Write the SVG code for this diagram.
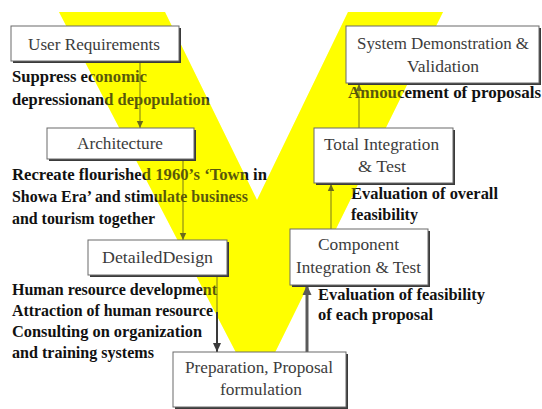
<svg xmlns="http://www.w3.org/2000/svg" xmlns:xlink="http://www.w3.org/1999/xlink" width="542" height="409" viewBox="0 0 542 409">
  <style>
    .note { font-weight: bold; font-size: 16px; fill: #111; }
    .label { font-size: 16px; fill: #3c3c3c; }
    .box { fill: #ffffff; stroke: #6a6a6a; stroke-width: 1; }
    .shadow { fill: #3a3a3a; }
    .thin { stroke: #2a2a2a; stroke-width: 0.9; fill: none; }
    .thick { stroke: #3a3a3a; stroke-width: 2; fill: none; }
    .heavy { stroke: #5a5a5a; stroke-width: 3; fill: none; }
  </style>
  <defs>
    <polygon id="vee" points="59,12 165,12 257,200 348,12 443,12 256,391" fill="#ffff00"/>
    <marker id="headThin" markerUnits="userSpaceOnUse" markerWidth="8" markerHeight="8" refX="7" refY="4" orient="auto">
      <path d="M0,0.8 L7,4 L0,7.2 Z" fill="#2a2a2a"/>
    </marker>
    <marker id="headThick" markerUnits="userSpaceOnUse" markerWidth="10" markerHeight="10" refX="9" refY="5" orient="auto">
      <path d="M0,1 L9,5 L0,9 Z" fill="#3a3a3a"/>
    </marker>
    <marker id="headHeavy" markerUnits="userSpaceOnUse" markerWidth="12" markerHeight="12" refX="10" refY="6" orient="auto">
      <path d="M0,1.5 L10,6 L0,10.5 Z" fill="#5a5a5a"/>
    </marker>
  </defs>

  <rect width="542" height="409" fill="#ffffff"/>

  <!-- the V band -->
  <use xlink:href="#vee"/>

  <!-- connectors lying in the band -->
  <g id="connectors">
    <line class="thin" x1="140" y1="62" x2="140" y2="128" marker-end="url(#headThin)"/>
    <line class="thin" x1="183" y1="160" x2="183" y2="240" marker-end="url(#headThin)"/>
    <line class="thin" x1="217" y1="276" x2="217" y2="312"/>
    <line class="thin" x1="331" y1="229" x2="331" y2="184" marker-end="url(#headThin)"/>
    <line class="thin" x1="359" y1="128" x2="359" y2="84" marker-end="url(#headThin)"/>
  </g>

  <!-- annotations -->
  <g id="notes" font-family="'Liberation Serif', 'Times New Roman', serif">
    <text class="note" x="12" y="82" textLength="135" lengthAdjust="spacingAndGlyphs">Suppress economic</text>
    <text class="note" x="12" y="105" textLength="198" lengthAdjust="spacingAndGlyphs">depressionand depopulation</text>
    <text class="note" x="12" y="180" textLength="255" lengthAdjust="spacingAndGlyphs">Recreate flourished 1960’s  ‘Town in</text>
    <text class="note" x="12" y="202" textLength="236" lengthAdjust="spacingAndGlyphs">Showa Era’ and stimulate business</text>
    <text class="note" x="12" y="224" textLength="143" lengthAdjust="spacingAndGlyphs">and tourism together</text>
    <text class="note" x="12" y="295" textLength="205" lengthAdjust="spacingAndGlyphs">Human resource development</text>
    <text class="note" x="12" y="316" textLength="201" lengthAdjust="spacingAndGlyphs">Attraction of human resource</text>
    <text class="note" x="12" y="337" textLength="190" lengthAdjust="spacingAndGlyphs">Consulting on organization</text>
    <text class="note" x="12" y="358" textLength="142" lengthAdjust="spacingAndGlyphs">and training systems</text>
    <text class="note" x="348" y="98" textLength="193" lengthAdjust="spacingAndGlyphs">Annoucement of proposals</text>
    <text class="note" x="351" y="199" textLength="147" lengthAdjust="spacingAndGlyphs">Evaluation of overall</text>
    <text class="note" x="351" y="220" textLength="67" lengthAdjust="spacingAndGlyphs">feasibility</text>
    <text class="note" x="318" y="300" textLength="167" lengthAdjust="spacingAndGlyphs">Evaluation of feasibility</text>
    <text class="note" x="318" y="320" textLength="115" lengthAdjust="spacingAndGlyphs">of each proposal</text>
  </g>

  <!-- translucent second pass of the band tints what lies inside it -->
  <use xlink:href="#vee" opacity="0.3"/>

  <!-- connectors outside the band -->
  <g id="connectors-bottom">
    <line class="thick" x1="217" y1="312" x2="217" y2="352" marker-end="url(#headThick)"/>
    <line class="heavy" x1="307" y1="352" x2="307" y2="285" marker-end="url(#headHeavy)"/>
  </g>

  <g id="nodes" font-family="'Liberation Serif', 'Times New Roman', serif">
    <g id="user-requirements">
      <rect class="shadow" x="13" y="28" width="168" height="35"/>
      <rect class="box" x="11" y="26" width="168" height="35"/>
      <text class="label" x="28" y="50" textLength="132" lengthAdjust="spacingAndGlyphs">User Requirements</text>
    </g>
    <g id="architecture">
      <rect class="shadow" x="49" y="130" width="147" height="31"/>
      <rect class="box" x="47" y="128" width="147" height="31"/>
      <text class="label" x="77" y="149" textLength="86" lengthAdjust="spacingAndGlyphs">Architecture</text>
    </g>
    <g id="detailed-design">
      <rect class="shadow" x="90" y="242" width="139" height="35"/>
      <rect class="box" x="88" y="240" width="139" height="35"/>
      <text class="label" x="102" y="263" textLength="111" lengthAdjust="spacingAndGlyphs">DetailedDesign</text>
    </g>
    <g id="preparation">
      <rect class="shadow" x="175" y="354" width="173" height="55"/>
      <rect class="box" x="173" y="352" width="173" height="55"/>
      <text class="label" x="185" y="373" textLength="148" lengthAdjust="spacingAndGlyphs">Preparation, Proposal</text>
      <text class="label" x="220" y="395" textLength="82" lengthAdjust="spacingAndGlyphs">formulation</text>
    </g>
    <g id="component-integration">
      <rect class="shadow" x="292" y="231" width="138" height="56"/>
      <rect class="box" x="290" y="229" width="138" height="56"/>
      <text class="label" x="318" y="250" textLength="81" lengthAdjust="spacingAndGlyphs">Component</text>
      <text class="label" x="296" y="273" textLength="125" lengthAdjust="spacingAndGlyphs">Integration &amp; Test</text>
    </g>
    <g id="total-integration">
      <rect class="shadow" x="316" y="130" width="139" height="55"/>
      <rect class="box" x="314" y="128" width="139" height="55"/>
      <text class="label" x="324" y="150" textLength="115" lengthAdjust="spacingAndGlyphs">Total Integration</text>
      <text class="label" x="358" y="172" textLength="48" lengthAdjust="spacingAndGlyphs">&amp; Test</text>
    </g>
    <g id="system-demonstration">
      <rect class="shadow" x="348" y="28" width="193" height="57"/>
      <rect class="box" x="346" y="26" width="193" height="57"/>
      <text class="label" x="357" y="49" textLength="172" lengthAdjust="spacingAndGlyphs">System Demonstration &amp;</text>
      <text class="label" x="407" y="72" textLength="72" lengthAdjust="spacingAndGlyphs">Validation</text>
    </g>
  </g>
</svg>
